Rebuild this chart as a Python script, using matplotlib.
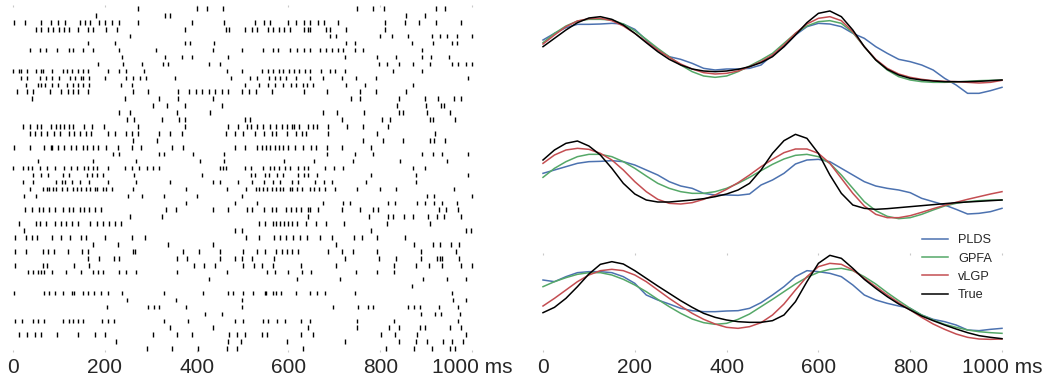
import matplotlib
matplotlib.use("Agg")
import matplotlib.pyplot as plt

plt.rcParams['font.family'] = ['Liberation Sans', 'DejaVu Sans']

# ---------------- data ----------------
# spike times (ms) for each of the 50 trials / neurons, top to bottom
spikes = [
    [272, 400, 422, 458, 750, 784, 809, 922, 941],
    [181, 331, 342, 856, 898],
    [2, 26, 62, 83, 99, 113, 146, 157, 168, 187, 200, 215, 230, 273, 389, 460, 527, 547, 561, 600, 617, 633, 647, 665, 678, 709, 810, 854, 885, 922, 975],
    [50, 61, 76, 88, 101, 112, 123, 142, 163, 175, 203, 227, 375, 464, 471, 505, 520, 531, 555, 567, 580, 591, 603, 633, 643, 647, 683, 691, 726, 810],
    [254, 691, 704, 800, 825, 861, 912, 930, 945, 968, 1000],
    [164, 222, 375, 386, 438, 726, 745, 869, 916, 956, 967],
    [37, 59, 72, 95, 121, 131, 153, 174, 230, 312, 435, 498, 544, 566, 578, 603, 619, 634, 648, 669, 683, 694, 707, 720, 745, 763, 892],
    [237, 331, 368, 391, 469, 723, 792, 834, 892, 910, 950],
    [185, 240, 282, 326, 338, 426, 451, 798, 814, 842, 872, 908, 956, 970, 988, 999],
    [1, 12, 17, 30, 50, 62, 66, 86, 110, 117, 128, 141, 153, 164, 206, 230, 246, 286, 466, 500, 542, 556, 567, 580, 588, 602, 612, 624, 636, 647, 672, 691, 702, 723, 827, 890],
    [17, 30, 59, 71, 84, 101, 124, 135, 148, 152, 166, 200, 246, 261, 277, 289, 354, 476, 516, 531, 558, 571, 582, 595, 617, 646, 676, 716, 747, 791, 992],
    [28, 55, 62, 70, 84, 99, 118, 130, 142, 153, 166, 235, 260, 506, 537, 556, 571, 588, 606, 617, 631, 640, 653, 726, 767, 872],
    [9, 30, 43, 81, 104, 119, 130, 141, 164, 261, 295, 360, 384, 399, 411, 426, 439, 455, 469, 500, 515, 529, 564, 633, 685, 756, 791, 856],
    [41, 244, 317, 360, 436, 736, 756, 842, 898, 927, 961, 975],
    [306, 335, 375, 455, 836, 900, 932, 938],
    [232, 255, 357, 429, 676, 705, 765, 840, 849, 903, 953],
    [249, 264, 324, 362, 375, 506, 516, 716, 805, 821, 908, 914, 963],
    [22, 37, 52, 62, 82, 93, 102, 112, 121, 131, 155, 173, 198, 273, 375, 469, 491, 509, 518, 531, 545, 560, 573, 585, 596, 607, 612, 624, 642, 653, 663, 687, 727, 762, 818],
    [36, 48, 62, 73, 90, 102, 121, 133, 145, 159, 171, 206, 222, 246, 259, 272, 319, 342, 368, 464, 484, 502, 527, 547, 564, 574, 596, 617, 629, 638, 687, 792, 919],
    [261, 313, 762, 807, 850, 908, 917, 941],
    [2, 37, 68, 82, 86, 97, 112, 126, 137, 152, 162, 174, 185, 203, 228, 260, 278, 346, 371, 484, 506, 531, 542, 551, 561, 571, 580, 589, 600, 614, 631, 649, 660, 685, 716, 779],
    [217, 230, 317, 328, 393, 460, 685, 745, 785, 890, 916, 934, 992],
    [54, 174, 269, 407, 460, 590, 656, 741, 843, 946],
    [1, 21, 32, 41, 59, 75, 92, 111, 126, 140, 155, 164, 175, 182, 208, 243, 259, 275, 291, 306, 319, 450, 457, 464, 506, 518, 544, 560, 569, 580, 593, 603, 622, 633, 643, 680, 699, 718, 871, 898],
    [43, 61, 76, 110, 121, 162, 173, 184, 197, 264, 411, 518, 527, 549, 558, 576, 588, 622, 633, 643, 663, 781, 878, 992],
    [21, 43, 94, 106, 113, 128, 146, 166, 208, 268, 341, 435, 452, 491, 520, 547, 567, 582, 607, 622, 658, 678, 696, 769, 877],
    [36, 66, 73, 79, 88, 94, 106, 117, 130, 139, 148, 159, 168, 179, 182, 195, 203, 215, 262, 377, 467, 508, 529, 535, 544, 553, 564, 573, 582, 589, 603, 607, 618, 629, 647, 656, 667, 680, 702, 750, 800, 834, 961],
    [24, 50, 250, 280, 330, 400, 500, 901, 917, 999],
    [376, 484, 532, 676, 718, 734, 816, 832, 881, 898, 917, 934, 968],
    [26, 41, 57, 66, 79, 92, 108, 121, 131, 145, 155, 166, 179, 191, 333, 355, 436, 468, 509, 520, 547, 564, 574, 595, 606, 617, 627, 642, 648, 665, 716, 755, 784, 796, 929, 943, 970],
    [255, 325, 643, 776, 816, 827, 852, 872, 905, 923, 939, 977],
    [12, 50, 59, 72, 92, 104, 116, 128, 142, 168, 182, 195, 210, 222, 235, 535, 549, 567, 574, 582, 590, 600, 607, 619, 638, 660, 683, 721, 814, 908],
    [25, 484, 498, 781, 987, 997],
    [4, 28, 41, 52, 86, 105, 124, 148, 159, 200, 259, 288, 508, 537, 569, 582, 595, 609, 625, 640, 669, 694, 743, 760, 792, 855],
    [175, 228, 337, 436, 704, 874, 916, 930, 954, 972],
    [4, 28, 65, 77, 89, 119, 150, 164, 261, 266, 370, 406, 451, 502, 532, 549, 574, 585, 596, 607, 622, 687, 716, 741, 792, 888, 965],
    [164, 187, 219, 231, 357, 380, 450, 484, 500, 520, 569, 723, 798, 834, 888, 923, 930, 934, 972],
    [4, 66, 73, 133, 166, 395, 416, 440, 502, 524, 542, 566, 627, 704, 830, 878, 907, 934, 977, 999],
    [32, 43, 54, 62, 68, 86, 116, 148, 175, 185, 195, 232, 246, 269, 358, 466, 553, 571, 600, 629, 649, 747, 792, 830],
    [428, 618, 712, 893, 945, 987],
    [869],
    [3, 68, 79, 92, 110, 128, 133, 152, 164, 177, 191, 208, 237, 328, 415, 469, 480, 502, 522, 549, 552, 566, 574, 583, 617, 648, 663, 680, 745, 957],
    [248, 355, 498, 959, 988],
    [204, 295, 307, 319, 377, 500, 698, 752, 774, 785, 861, 874, 887, 929, 970],
    [418, 455, 888, 919, 932, 974],
    [4, 19, 43, 55, 68, 110, 121, 131, 142, 153, 193, 208, 221, 328, 382, 484, 502, 544, 556, 576, 593, 627, 648, 750, 830, 970],
    [342, 436, 642, 749, 820, 842, 887, 898, 951, 977],
    [12, 30, 47, 62, 95, 142, 179, 200, 304, 357, 391, 471, 489, 506, 542, 554, 627, 653, 801, 832, 881, 987],
    [224, 468, 496, 598, 723, 840, 879, 903, 936, 956, 981],
    [291, 347, 402, 466, 489, 631, 813, 874, 912, 951, 963],
]

# latent trajectories, sampled every 25 ms from 0 to 1000 ms
t = [0, 25, 50, 75, 100, 125, 150, 175, 200, 225, 250, 275, 300, 325, 350,
     375, 400, 425, 450, 475, 500, 525, 550, 575, 600, 625, 650, 675, 700,
     725, 750, 775, 800, 825, 850, 875, 900, 925, 950, 975, 1000]

# dimension 1
d1_true = [0.60, 0.85, 1.10, 1.32, 1.46, 1.50, 1.42, 1.25, 1.00, 0.72, 0.45, 0.22, 0.05, -0.07, -0.13, -0.15, -0.13, -0.08, 0.00, 0.12, 0.30,
           0.60, 0.95, 1.32, 1.60, 1.67, 1.50, 1.10, 0.60, 0.20, -0.08, -0.25, -0.35, -0.40, -0.43, -0.45, -0.45, -0.45, -0.44, -0.42, -0.40]
d1_vlgp = [0.68, 0.95, 1.20, 1.37, 1.44, 1.45, 1.38, 1.22, 1.00, 0.75, 0.50, 0.28, 0.08, -0.07, -0.18, -0.22, -0.20, -0.13, 0.00, 0.15, 0.35,
           0.65, 1.00, 1.28, 1.45, 1.50, 1.38, 1.05, 0.60, 0.22, -0.05, -0.22, -0.32, -0.38, -0.42, -0.44, -0.45, -0.47, -0.49, -0.47, -0.41]
d1_gpfa = [0.72, 1.00, 1.22, 1.37, 1.42, 1.42, 1.40, 1.28, 1.08, 0.82, 0.55, 0.30, 0.05, -0.15, -0.28, -0.32, -0.28, -0.15, 0.02, 0.20, 0.40,
           0.70, 1.00, 1.22, 1.35, 1.38, 1.30, 1.02, 0.60, 0.20, -0.10, -0.30, -0.40, -0.45, -0.47, -0.47, -0.46, -0.44, -0.42, -0.41, -0.40]
d1_plds = [0.80, 1.00, 1.17, 1.27, 1.27, 1.28, 1.30, 1.28, 1.12, 0.80, 0.50, 0.30, 0.22, 0.10, -0.05, -0.10, -0.07, -0.07, -0.05, 0.05, 0.35,
           0.60, 0.95, 1.20, 1.30, 1.28, 1.20, 1.00, 0.85, 0.60, 0.40, 0.22, 0.15, 0.05, -0.10, -0.35, -0.55, -0.80, -0.80, -0.72, -0.62]

# dimension 2
d2_true = [0.80, 1.10, 1.30, 1.37, 1.22, 0.95, 0.55, 0.10, -0.22, -0.40, -0.46, -0.46, -0.43, -0.40, -0.36, -0.30, -0.22, -0.10, 0.10, 0.50, 1.00,
           1.38, 1.57, 1.45, 1.00, 0.35, -0.20, -0.55, -0.65, -0.68, -0.66, -0.63, -0.60, -0.57, -0.54, -0.51, -0.48, -0.46, -0.44, -0.42, -0.40]
d2_vlgp = [0.70, 0.95, 1.10, 1.15, 1.12, 1.00, 0.80, 0.50, 0.15, -0.15, -0.38, -0.50, -0.52, -0.48, -0.38, -0.25, -0.08, 0.12, 0.35, 0.60, 0.82,
           1.02, 1.13, 1.13, 1.00, 0.70, 0.25, -0.20, -0.58, -0.83, -0.93, -0.93, -0.87, -0.77, -0.66, -0.56, -0.47, -0.38, -0.30, -0.22, -0.15]
d2_gpfa = [0.28, 0.55, 0.75, 0.90, 0.97, 0.97, 0.90, 0.75, 0.55, 0.32, 0.10, -0.05, -0.15, -0.20, -0.20, -0.15, -0.05, 0.10, 0.28, 0.48, 0.67,
           0.83, 0.94, 0.97, 0.90, 0.70, 0.35, -0.05, -0.45, -0.72, -0.89, -0.96, -0.93, -0.83, -0.70, -0.58, -0.50, -0.45, -0.42, -0.40, -0.40]
d2_plds = [0.40, 0.50, 0.60, 0.70, 0.75, 0.76, 0.78, 0.75, 0.65, 0.50, 0.35, 0.15, 0.02, -0.05, -0.20, -0.25, -0.25, -0.26, -0.22, 0.05, 0.20,
           0.40, 0.68, 0.80, 0.82, 0.75, 0.55, 0.35, 0.15, 0.02, -0.05, -0.10, -0.18, -0.35, -0.45, -0.55, -0.68, -0.82, -0.80, -0.75, -0.65]

# dimension 3
d3_true = [-0.48, -0.32, -0.05, 0.30, 0.68, 0.97, 1.05, 0.98, 0.78, 0.55, 0.32, 0.10, -0.12, -0.32, -0.50, -0.62, -0.70, -0.75, -0.77, -0.77, -0.72,
           -0.55, -0.15, 0.45, 1.00, 1.24, 1.15, 0.85, 0.52, 0.25, 0.00, -0.22, -0.40, -0.58, -0.72, -0.85, -0.97, -1.08, -1.17, -1.22, -1.26]
d3_vlgp = [-0.28, -0.05, 0.20, 0.45, 0.65, 0.78, 0.82, 0.78, 0.65, 0.45, 0.20, -0.05, -0.28, -0.50, -0.68, -0.82, -0.92, -0.95, -0.90, -0.78, -0.55,
           -0.22, 0.20, 0.60, 0.90, 1.00, 0.97, 0.80, 0.55, 0.30, 0.05, -0.18, -0.40, -0.62, -0.82, -0.98, -1.12, -1.22, -1.27, -1.28, -1.27]
d3_gpfa = [0.30, 0.45, 0.57, 0.67, 0.72, 0.72, 0.65, 0.52, 0.35, 0.15, -0.08, -0.30, -0.50, -0.67, -0.78, -0.83, -0.80, -0.68, -0.52, -0.30, -0.08,
           0.15, 0.38, 0.58, 0.73, 0.82, 0.85, 0.78, 0.60, 0.38, 0.12, -0.12, -0.35, -0.55, -0.70, -0.83, -0.92, -1.00, -1.05, -1.08, -1.10]
d3_plds = [0.50, 0.45, 0.60, 0.72, 0.75, 0.75, 0.72, 0.60, 0.40, 0.05, -0.10, -0.22, -0.35, -0.42, -0.45, -0.45, -0.43, -0.42, -0.35, -0.18, 0.05,
           0.30, 0.60, 0.78, 0.75, 0.70, 0.60, 0.35, 0.05, -0.10, -0.20, -0.28, -0.35, -0.55, -0.68, -0.75, -0.85, -1.00, -1.02, -0.98, -0.95]

tick_values = [0, 200, 400, 600, 800, 1000]
tick_labels = ["0", "200", "400", "600", "800", "1000 ms"]
series_names = ["PLDS", "GPFA", "vLGP", "True"]
series_colors = ["#4C72B0", "#55A868", "#C44E52", "#000000"]

# ---------------- figure ----------------
W, H = 1048, 379
fig = plt.figure(figsize=(W / 100, H / 100), dpi=100)


def add_axes_px(x0, y0, x1, y1):
    return fig.add_axes([x0 / W, 1 - y1 / H, (x1 - x0) / W, (y1 - y0) / H])


label_color = "#262626"
tick_fs = 15


def style_ticks(ax, show):
    for s in ax.spines.values():
        s.set_visible(False)
    if show:
        ax.set_xticks(tick_values)
        ax.set_xticklabels(tick_labels, fontsize=tick_fs, color=label_color)
        ax.tick_params(axis="x", top=True, bottom=True, direction="in",
                       length=1.5, width=0.8, color="#c8c8c8", pad=4)
    else:
        ax.set_xticks([])
    ax.set_yticks([])


# left: raster
axL = add_axes_px(13 - 4.59, 5, 472 + 4.59, 352)
axL.eventplot(spikes, lineoffsets=list(range(len(spikes))), linelengths=0.65,
              colors="black", linewidths=1.0)
axL.set_xlim(-10, 1010)
axL.set_ylim(len(spikes) - 0.5, -0.5)
style_ticks(axL, True)

# right: latent dimensions
panels = [
    ((5, 104), (-1.12, 1.85), [d1_plds, d1_gpfa, d1_vlgp, d1_true]),
    ((128, 227), (-1.21, 1.76), [d2_plds, d2_gpfa, d2_vlgp, d2_true]),
    ((253, 352), (-1.66, 1.31), [d3_plds, d3_gpfa, d3_vlgp, d3_true]),
]
axes_r = []
for i, ((top, bot), ylim, series) in enumerate(panels):
    ax = add_axes_px(543 - 4.59, top, 1002 + 4.59, bot)
    for vals, name, col in zip(series, series_names, series_colors):
        ax.plot(t, vals, color=col, lw=1.1, label=name)
    ax.set_xlim(-10, 1010)
    ax.set_ylim(*ylim)
    style_ticks(ax, i == 2)
    axes_r.append(ax)

handles, labels = axes_r[2].get_legend_handles_labels()
fig.legend(handles, labels, loc="upper left", bbox_to_anchor=(917 / W, 1 - 229 / H),
           frameon=False, fontsize=9.2, handlelength=2.0, handletextpad=0.8,
           labelspacing=0.5, borderaxespad=0, borderpad=0.4,
           labelcolor=label_color)

fig.savefig("out.png", dpi=100)
